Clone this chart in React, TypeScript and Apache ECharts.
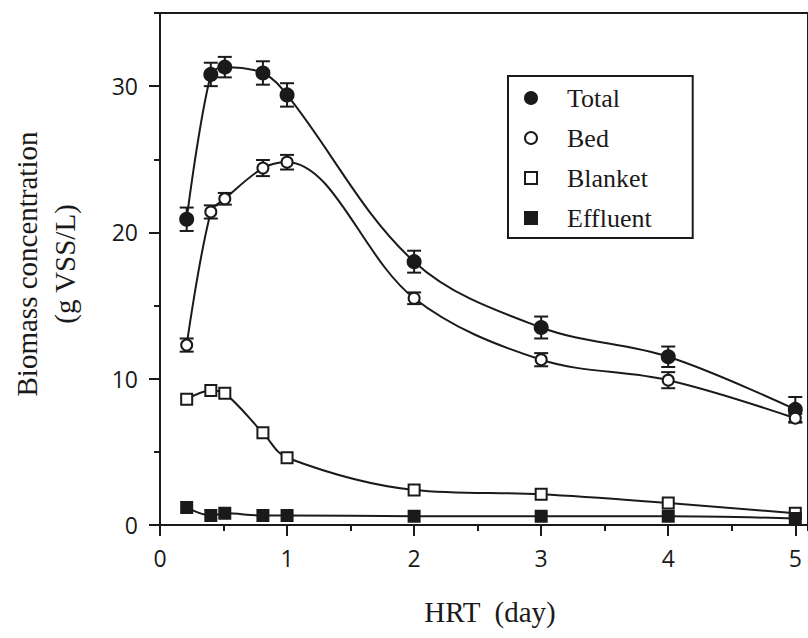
import React, { useEffect, useRef } from "react";
import * as echarts from "echarts";

// HRT (day)
const hrt = [0.21, 0.4, 0.51, 0.81, 1.0, 2, 3, 4, 5];
// Biomass concentration (g VSS/L)
const total = [20.9, 30.8, 31.3, 30.9, 29.4, 18.0, 13.5, 11.5, 7.9];
const totalErr = [0.8, 0.8, 0.7, 0.8, 0.8, 0.75, 0.75, 0.7, 0.85];
const bed = [12.3, 21.4, 22.3, 24.4, 24.8, 15.5, 11.3, 9.9, 7.3];
const bedErr = [0.45, 0.45, 0.4, 0.55, 0.5, 0.4, 0.45, 0.55, 0.3];
const blanket = [8.6, 9.2, 9.0, 6.3, 4.6, 2.4, 2.1, 1.5, 0.8];
const effluent = [1.2, 0.65, 0.8, 0.65, 0.65, 0.6, 0.6, 0.6, 0.45];

const xTicks = [0, 1, 2, 3, 4, 5];
const yTicks = [0, 10, 20, 30];

const INK = "#1a1a1a";
const SERIF = "'Liberation Serif', 'Times New Roman', serif";
const SANS = "'Open Sans', 'Liberation Sans', sans-serif";

function errorBarSeries(name: string, ys: number[], errs: number[]) {
  return {
    name,
    type: "custom",
    silent: true,
    z: 1,
    data: hrt.map((x, i) => [x, ys[i], errs[i]]),
    encode: { x: 0, y: 1 },
    renderItem: (_params: any, api: any) => {
      const x = api.value(0);
      const y = api.value(1);
      const e = api.value(2);
      const top = api.coord([x, y + e]);
      const bot = api.coord([x, y - e]);
      const hw = 7;
      const style = { stroke: INK, lineWidth: 2 };
      return {
        type: "group",
        children: [
          { type: "line", shape: { x1: top[0], y1: top[1], x2: bot[0], y2: bot[1] }, style },
          { type: "line", shape: { x1: top[0] - hw, y1: top[1], x2: top[0] + hw, y2: top[1] }, style },
          { type: "line", shape: { x1: bot[0] - hw, y1: bot[1], x2: bot[0] + hw, y2: bot[1] }, style },
        ],
      };
    },
  };
}

function lineSeries(name: string, ys: number[], symbol: string, size: number, fill: string) {
  return {
    name,
    type: "line",
    z: 3,
    smooth: 0.35,
    data: hrt.map((x, i) => [x, ys[i]]),
    symbol,
    symbolSize: size,
    showSymbol: true,
    lineStyle: { color: INK, width: 2 },
    itemStyle: { color: fill, borderColor: INK, borderWidth: 2, opacity: 1 },
    emphasis: { disabled: true },
  };
}

export default function App() {
  const ref = useRef<HTMLDivElement>(null);
  useEffect(() => {
    if (!ref.current) return;
    const chart = echarts.init(ref.current, null, { renderer: "svg" });
    const tickLabelStyle = { fontFamily: SANS, fontSize: 23, color: INK };
    chart.setOption({
      animation: false,
      backgroundColor: "#ffffff",
      grid: {
        left: 160,
        top: 13,
        right: -5,
        bottom: 113,
        show: true,
        borderColor: INK,
        borderWidth: 2,
        backgroundColor: "transparent",
      },
      xAxis: [
        {
          type: "value",
          position: "bottom",
          min: 0,
          max: 5.1,
          interval: 1,
          axisLine: { onZero: false, lineStyle: { color: INK, width: 2 } },
          axisTick: { length: 11, customValues: xTicks, lineStyle: { color: INK, width: 2 } },
          axisLabel: {
            ...tickLabelStyle,
            margin: 21,
            customValues: xTicks,
            formatter: (v: number) => (xTicks.includes(v) ? String(v) : ""),
          },
          splitLine: { show: false },
        },
        {
          type: "value",
          position: "bottom",
          min: 0,
          max: 5.1,
          interval: 0.5,
          axisLine: { show: false, onZero: false },
          axisTick: { length: 6, lineStyle: { color: INK, width: 2 } },
          axisLabel: { show: false },
          splitLine: { show: false },
        },
      ],
      yAxis: [
        {
          type: "value",
          position: "left",
          min: 0,
          max: 35,
          interval: 10,
          axisLine: { show: true, onZero: false, lineStyle: { color: INK, width: 2 } },
          axisTick: { show: true, length: 11, customValues: yTicks, lineStyle: { color: INK, width: 2 } },
          axisLabel: {
            ...tickLabelStyle,
            margin: 22,
            customValues: yTicks,
            formatter: (v: number) => (yTicks.includes(v) ? String(v) : ""),
          },
          splitLine: { show: false },
        },
        {
          type: "value",
          position: "left",
          min: 0,
          max: 35,
          interval: 5,
          axisLine: { show: false, onZero: false },
          axisTick: { show: true, length: 6, lineStyle: { color: INK, width: 2 } },
          axisLabel: { show: false },
          splitLine: { show: false },
        },
      ],
      legend: {
        orient: "vertical",
        left: 508,
        top: 76,
        padding: [9, 41, 7, 16],
        borderColor: INK,
        borderWidth: 2,
        backgroundColor: "#ffffff",
        itemWidth: 12,
        itemHeight: 12,
        itemGap: 14,
        selectedMode: false,
        textStyle: {
          fontFamily: SERIF,
          fontSize: 26,
          color: INK,
          lineHeight: 26,
          padding: [0, 0, 0, 25],
        },
        data: [
          { name: "Total", icon: "circle" },
          { name: "Bed", icon: "circle" },
          { name: "Blanket", icon: "rect" },
          { name: "Effluent", icon: "rect" },
        ],
      },
      graphic: [
        {
          type: "text",
          x: 46,
          y: 264,
          rotation: Math.PI / 2,
          style: {
            text: "Biomass concentration\n(g VSS/L)",
            fontFamily: SERIF,
            fontSize: 29,
            lineHeight: 38,
            fill: INK,
            align: "center",
            verticalAlign: "middle",
          },
        },
        {
          type: "text",
          x: 490,
          y: 612,
          style: {
            text: "HRT  (day)",
            fontFamily: SERIF,
            fontSize: 29,
            fill: INK,
            align: "center",
            verticalAlign: "middle",
          },
        },
      ],
      series: [
        errorBarSeries("Total error", total, totalErr),
        errorBarSeries("Bed error", bed, bedErr),
        lineSeries("Total", total, "circle", 13, INK),
        lineSeries("Bed", bed, "circle", 11, "#ffffff"),
        lineSeries("Blanket", blanket, "rect", 11, "#ffffff"),
        lineSeries("Effluent", effluent, "rect", 11, INK),
      ],
    });
    return () => chart.dispose();
  }, []);
  return (
    <div
      ref={ref}
      style={{ position: "absolute", left: 0, top: 0, width: 808, height: 638 }}
    />
  );
}
